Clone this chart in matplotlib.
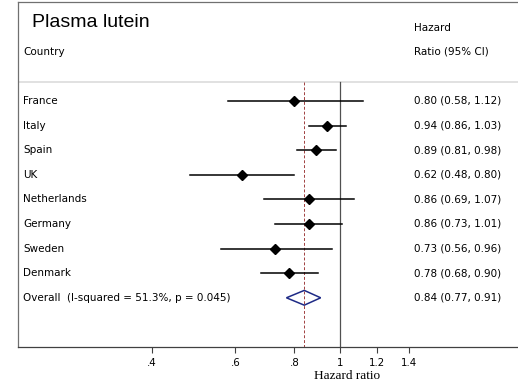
import numpy as np
import matplotlib
matplotlib.use("Agg")
import matplotlib.pyplot as plt
from matplotlib.transforms import blended_transform_factory
from matplotlib.patches import Polygon

countries = ["France", "Italy", "Spain", "UK", "Netherlands", "Germany", "Sweden", "Denmark"]
hr = [0.80, 0.94, 0.89, 0.62, 0.86, 0.86, 0.73, 0.78]
lo = [0.58, 0.86, 0.81, 0.48, 0.69, 0.73, 0.56, 0.68]
hi = [1.12, 1.03, 0.98, 0.80, 1.07, 1.01, 0.96, 0.90]
overall = (0.84, 0.77, 0.91)
overall_label = "Overall  (I-squared = 51.3%, p = 0.045)"
ticks = [0.4, 0.6, 0.8, 1.0, 1.2, 1.4]
tick_labels = [".4", ".6", ".8", "1", "1.2", "1.4"]

plt.rcParams['font.family'] = ['DejaVu Sans']

fig = plt.figure(figsize=(5.18, 3.85), dpi=100)
W, H = 518, 385
# axes: left x=18px, top y=2px, bottom y=347px, right beyond the figure
ax = fig.add_axes([18 / W, (H - 347) / H, 1.0, (347 - 2) / H])
ax.set_xscale('log')
# x range chosen so 1.0 sits at x=340px (205 px per ln unit)
xmin = np.exp((18 - 340) / 205)
xmax = np.exp((18 + 518 - 340) / 205)
ax.set_xlim(xmin, xmax)
ax.set_ylim(10.0, -4.02)

for s in ax.spines.values():
    s.set_color('#707070')
    s.set_linewidth(0.9)
ax.spines['bottom'].set_color('#404040')

ax.set_xticks(ticks)
ax.set_xticklabels(tick_labels, fontsize=7.4)
ax.minorticks_off()
ax.set_yticks([])
ax.tick_params(axis='x', length=4, width=0.8, color='#404040', pad=4)
# axis title placed in figure pixels so it stays inside the canvas
fig.text(347 / W, 1 - 376 / H, "Hazard ratio", family='Liberation Serif',
         fontsize=9.5, ha='center', va='center')

# separator and reference lines
ax.axhline(-0.77, color='#dcdcdc', lw=1.2)
ax.plot([1, 1], [-0.77, 10], color='#505050', lw=0.9)
ax.plot([overall[0]] * 2, [-0.77, 10], color='#a04040', lw=0.7, ls=(0, (3, 2)))

rows = np.arange(len(countries))
for y, h, l, u in zip(rows, hr, lo, hi):
    ax.plot([l, u], [y, y], color='black', lw=1.1)
ax.plot(hr, rows, ls='none', marker='D', ms=5.5, color='black')

yo = len(countries)
est, ol, ou = overall
dia = Polygon([[ol, yo], [est, yo - 0.3], [ou, yo], [est, yo + 0.3]],
              closed=True, fill=False, edgecolor='#1e2a86', lw=1.1)
ax.add_patch(dia)

tr = blended_transform_factory(fig.transFigure, ax.transData)
fs = 7.5
ax.text(32 / W, -3.17, "Plasma lutein", transform=tr, fontsize=14, va='center',
        family='Liberation Sans')
ax.text(23 / W, -1.99, "Country", transform=tr, fontsize=fs, va='center')
ax.text(414 / W, -2.97, "Hazard", transform=tr, fontsize=fs, va='center')
ax.text(414 / W, -1.99, "Ratio (95% CI)", transform=tr, fontsize=fs, va='center')

for y, c, h, l, u in zip(rows, countries, hr, lo, hi):
    ax.text(23 / W, y, c, transform=tr, fontsize=fs, va='center')
    ax.text(414 / W, y, f"{h:.2f} ({l:.2f}, {u:.2f})", transform=tr, fontsize=fs, va='center')
ax.text(23 / W, yo, overall_label, transform=tr, fontsize=fs, va='center')
ax.text(414 / W, yo, f"{est:.2f} ({ol:.2f}, {ou:.2f})", transform=tr, fontsize=fs, va='center')

fig.savefig("out.png", dpi=100, facecolor='white')
